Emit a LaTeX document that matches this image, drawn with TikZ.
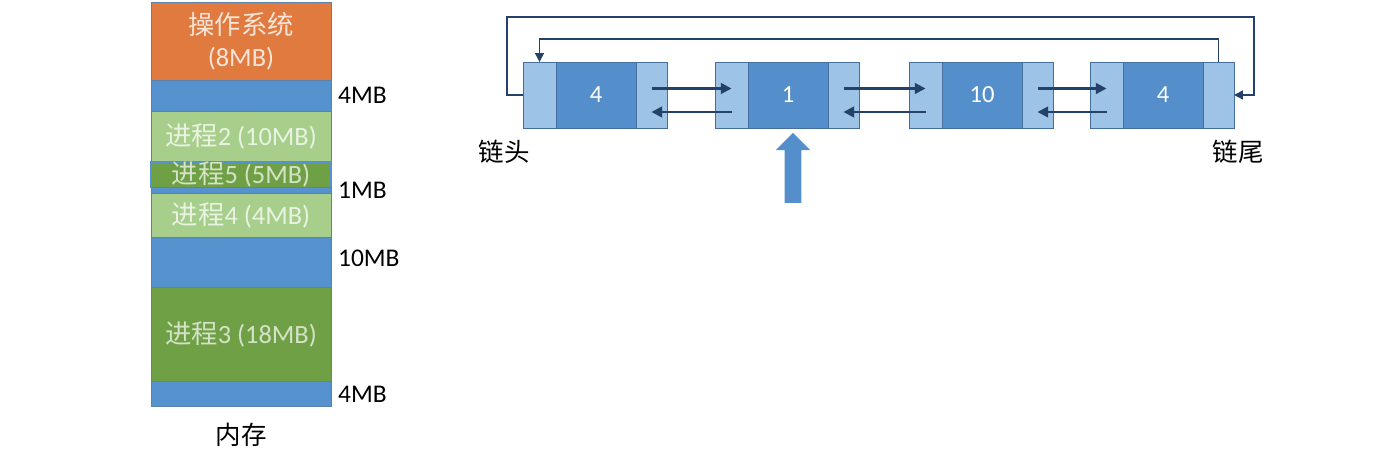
\documentclass[tikz,border=0pt]{standalone}
\usepackage{fontspec}
\setmainfont{Carlito}
\newfontfamily\cjk{Noto Sans CJK SC}
\usetikzlibrary{arrows.meta, positioning, shapes.arrows}
\definecolor{osorange}{RGB}{225,122,62}
\definecolor{freeblue}{RGB}{86,146,205}
\definecolor{procgreen}{RGB}{168,206,140}
\definecolor{procdark}{RGB}{112,160,70}
\definecolor{blkline}{RGB}{90,130,170}
\definecolor{ptrblue}{RGB}{157,195,230}
\definecolor{datblue}{RGB}{85,143,203}
\definecolor{nodeline}{RGB}{70,110,155}
\definecolor{linkblue}{RGB}{35,65,105}

\begin{document}
\begin{tikzpicture}[
    x=0.02cm, y=-0.02cm,
    blk/.style={draw=blkline, line width=0.4pt, minimum width=3.6cm,
                inner sep=0pt, outer sep=0pt, align=center,
                font=\fontsize{15}{18}\selectfont},
    size/.style={font=\fontsize{14.5}{16}\selectfont, inner sep=1pt},
    ptr/.style={draw=nodeline, fill=ptrblue, minimum height=1.32cm,
                inner sep=0pt, outer sep=0pt},
    dat/.style={draw=nodeline, fill=datblue, minimum height=1.32cm,
                minimum width=1.6cm, inner sep=0pt, outer sep=0pt,
                text=white, font=\fontsize{14}{16}\selectfont},
    link/.style={draw=linkblue, line width=1.3pt,
                 -{Triangle[length=6pt,width=6pt]}},
    ring/.style={draw=linkblue, line width=0.8pt,
                 -{Triangle[length=5pt,width=5pt]}},
    bigarrow/.style={single arrow, shape border rotate=90, fill=datblue,
                     minimum height=1.4cm, inner sep=0.16cm,
                     single arrow head extend=0.18cm}
]
    \useasboundingbox (0,0) rectangle (1388,455);

    % memory column
    \node[blk, fill=osorange, minimum height=1.56cm, text=white!80!osorange,
          anchor=north] (os) at (241,2) {{\cjk 操作系统}\\(8MB)};
    \node[blk, fill=freeblue, minimum height=0.62cm, below=0pt of os] (free1) {};
    \node[blk, fill=procgreen, minimum height=1.02cm, text=white!75!procgreen,
          below=0pt of free1] (p2) {{\cjk 进程}2 (10MB)};
    \node[blk, fill=procdark, draw=freeblue, line width=0.8pt, minimum height=0.5cm,
          text=white!70!procdark, below=0pt of p2] (p5) {{\cjk 进程}5 (5MB)};
    \node[blk, fill=freeblue, minimum height=0.12cm, below=0pt of p5] (free2) {};
    \node[blk, fill=procgreen, minimum height=0.88cm, text=white!75!procgreen,
          below=0pt of free2] (p4) {{\cjk 进程}4 (4MB)};
    \node[blk, fill=freeblue, minimum height=1.0cm, below=0pt of p4] (free3) {};
    \node[blk, fill=procdark, minimum height=1.88cm, text=white!70!procdark,
          below=0pt of free3] (p3) {{\cjk 进程}3 (18MB)};
    \node[blk, fill=freeblue, minimum height=0.5cm, below=0pt of p3] (free4) {};

    \node[size, right=0.1cm of free1] (s1) {4MB};
    \node[size, right=0.1cm of free2] (s2) {1MB};
    \node[size, right=0.1cm of free3, yshift=0.08cm] (s3) {10MB};
    \node[size, right=0.1cm of free4] (s4) {4MB};
    \node[size, below=0.3cm of free4] (mem) {\cjk 内存};

    % free list
    \node[dat] (n1) at (596,95) {4};
    \node[dat] (n2) at (788,95) {1};
    \node[dat] (n3) at (982,95) {10};
    \node[dat] (n4) at (1163,95) {4};
    \foreach \i in {1,...,4} {
        \node[ptr, minimum width=0.66cm, left=0pt of n\i] (n\i l) {};
        \node[ptr, minimum width=0.62cm, right=0pt of n\i] (n\i r) {};
    }
    \foreach \a/\b in {1/2, 2/3, 3/4} {
        \draw[link] ([yshift=0.13cm]n\a r.center) -- ([yshift=0.13cm]n\b l.center);
        \draw[link] ([yshift=-0.34cm]n\b l.center) -- ([yshift=-0.34cm]n\a r.center);
    }
    \draw[ring] (n1l.west) -| (507,17) -| ([xshift=0.4cm]n4r.east) -- (n4r.east);
    \draw[ring] (n4r.north) -- ++(0,-23) -| (n1l.north);

    \node[size] (head) at (504,152) {\cjk 链头};
    \node[size] (tail) at (1238,152) {\cjk 链尾};
    \node[bigarrow] (cur) at (793,172) {};
\end{tikzpicture}
\end{document}
